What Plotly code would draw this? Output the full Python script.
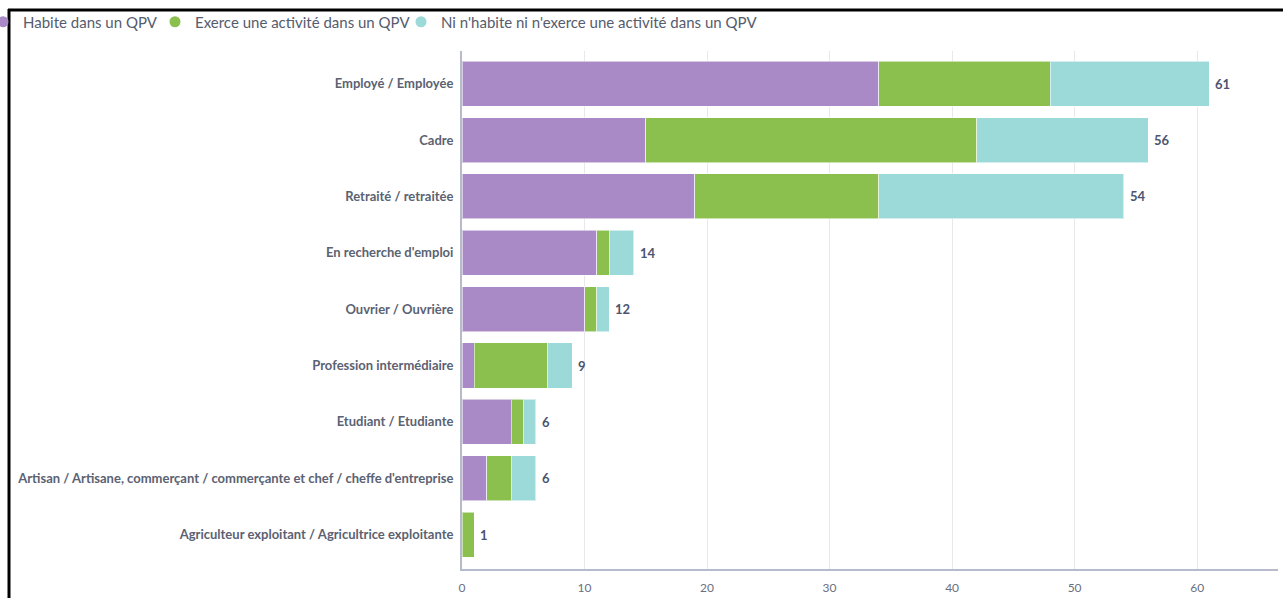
import plotly.graph_objects as go

categories = [
    "Employé / Employée",
    "Cadre",
    "Retraité / retraitée",
    "En recherche d'emploi",
    "Ouvrier / Ouvrière",
    "Profession intermédiaire",
    "Etudiant / Etudiante",
    "Artisan / Artisane, commerçant / commerçante et chef / cheffe d'entreprise",
    "Agriculteur exploitant / Agricultrice exploitante",
]
habite = [34, 15, 19, 11, 10, 1, 4, 2, 0]
exerce = [14, 27, 15, 1, 1, 6, 1, 2, 1]
ni = [13, 14, 20, 2, 1, 2, 1, 2, 0]
series_names = [
    "Habite dans un QPV",
    "Exerce une activité dans un QPV",
    "Ni n'habite ni n'exerce une activité dans un QPV",
]
colors = ["#a98ac6", "#8bbf4e", "#9bdad9"]
x_ticks = [0, 10, 20, 30, 40, 50, 60]

totals = [a + b + c for a, b, c in zip(habite, exerce, ni)]

W, H = 1283, 598
L, R, T, B = 462, 5, 51, 29
pw, ph = W - L - R, H - T - B

def fx(px):
    return (px - L) / pw

def fy(py):
    return 1 - (py - T) / ph

fig = go.Figure()
for name, vals, col in zip(series_names, [habite, exerce, ni], colors):
    fig.add_trace(go.Bar(
        y=categories, x=vals, orientation="h", name=name,
        marker=dict(color=col, line=dict(color="rgba(255,255,255,0.55)", width=1)),
        showlegend=False, hoverinfo="x+name",
    ))

# legend entries with round markers, one legend box per entry
legend_ids = ["legend", "legend2", "legend3"]
legend_px = [-17, 155, 401]
for name, col, lid in zip(series_names, colors, legend_ids):
    fig.add_trace(go.Scatter(
        x=[None], y=[None], mode="markers", name=name, legend=lid,
        marker=dict(color=col, size=11, symbol="circle"),
    ))

annotations = [
    dict(x=t, y=c, xref="x", yref="y", text=str(t), showarrow=False,
         xanchor="left", yanchor="middle", xshift=4,
         font=dict(family="Lato", size=13, color="#4b5470", weight="bold"))
    for t, c in zip(totals, categories)
]

legend_common = dict(
    orientation="h", xanchor="left", y=fy(22), yanchor="middle",
    font=dict(family="Lato", size=15, color="#555c6e"),
    itemclick=False, bgcolor="rgba(0,0,0,0)",
)

fig.update_layout(
    width=W, height=H,
    margin=dict(l=L, r=R, t=T, b=B, autoexpand=False),
    barmode="stack", bargap=0.2,
    plot_bgcolor="white", paper_bgcolor="white",
    font=dict(family="Lato", color="#5b6272"),
    legend=dict(x=fx(legend_px[0]), **legend_common),
    legend2=dict(x=fx(legend_px[1]), **legend_common),
    legend3=dict(x=fx(legend_px[2]), **legend_common),
    xaxis=dict(
        range=[0, 66.6], tickvals=x_ticks, showgrid=True, gridcolor="#e8e8ec", gridwidth=1,
        zeroline=False, showline=True, linecolor="#b6bbcc", linewidth=2,
        ticks="outside", ticklen=7, tickcolor="rgba(0,0,0,0)",
        tickfont=dict(family="Lato", size=12, color="#6b7080"),
    ),
    yaxis=dict(
        range=[8.61, -0.58], showgrid=False, showline=True, linecolor="#b6bbcc", linewidth=2,
        ticks="outside", ticklen=4, tickcolor="rgba(0,0,0,0)",
        tickfont=dict(family="Lato", size=13, color="#5b6272", weight="bold"),
    ),
    annotations=annotations,
    shapes=[
        dict(type="line", xref="paper", yref="paper", x0=fx(8), x1=fx(1290),
             y0=fy(10), y1=fy(10), line=dict(color="black", width=3)),
        dict(type="line", xref="paper", yref="paper", x0=fx(9), x1=fx(9),
             y0=fy(9), y1=fy(610), line=dict(color="black", width=3)),
    ],
)

fig.write_html("out.html", config={"displayModeBar": False},
               post_script="document.body.style.margin='0';")
